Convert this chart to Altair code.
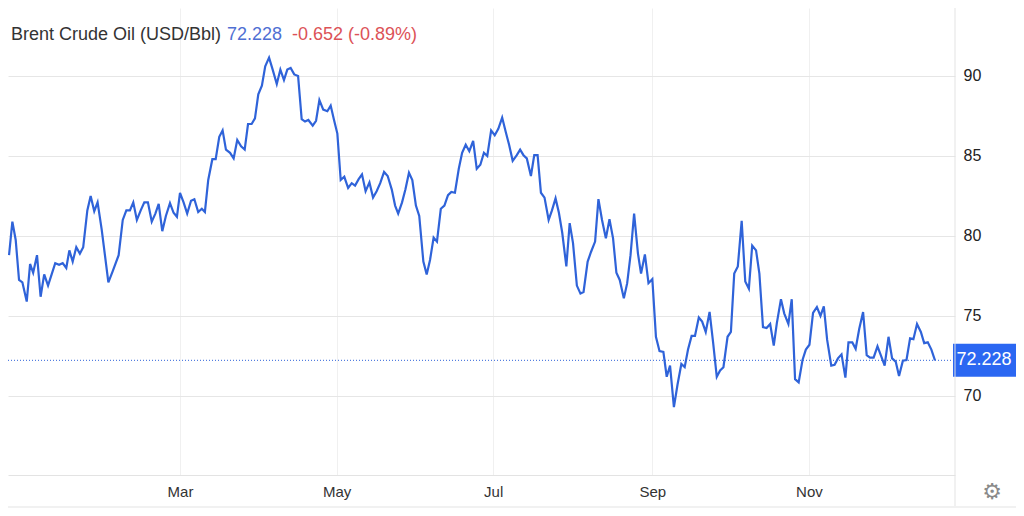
import altair as alt
import pandas as pd

# Day offsets from 2024-01-01 and Brent closing prices
DAYS = [
    -6.6, -5.3, -4.0, -2.7, -1.4, 0.3, 1.6, 2.8, 4.3, 5.7, 7.1, 8.6, 10.0, 11.4, 12.9, 14.3,
    15.7, 16.9, 18.2, 19.6, 21.0, 22.3, 23.9, 25.2, 26.6, 27.9, 29.5, 32.1, 33.8, 36.1, 37.7,
    39.1, 40.5, 41.8, 43.2, 44.7, 46.1, 47.5, 49.0, 50.4, 51.7, 53.1, 54.5, 56.1, 57.5, 58.8,
    60.0, 61.4, 62.8, 64.3, 65.6, 67.1, 68.5, 69.7, 71.0, 72.6, 73.9, 75.3, 76.6, 77.9, 79.5,
    80.9, 82.3, 83.8, 85.2, 86.5, 87.9, 89.2, 90.5, 91.9, 93.2, 94.7, 96.1, 97.7, 99.1, 100.5,
    101.8, 103.1, 104.5, 106.0, 107.4, 108.7, 110.0, 111.7, 113.0, 114.3, 115.8, 117.4, 118.7,
    120.0, 121.3, 122.6, 124.0, 125.5, 126.9, 128.2, 129.6, 130.9, 132.3, 133.8, 135.2, 136.6,
    138.0, 139.5, 140.9, 142.5, 143.8, 145.0, 146.5, 147.8, 149.2, 150.5, 151.9, 153.2, 154.8,
    156.1, 157.4, 158.8, 160.1, 161.6, 163.0, 164.4, 165.7, 167.1, 168.6, 169.9, 171.3, 172.7,
    174.2, 175.6, 177.0, 178.4, 179.7, 181.2, 182.6, 184.0, 185.5, 186.9, 188.2, 189.6, 191.2,
    192.5, 193.8, 195.1, 196.7, 198.0, 199.3, 200.6, 202.0, 203.6, 204.9, 206.3, 207.6, 208.9,
    210.5, 211.8, 213.1, 214.6, 216.0, 217.2, 218.8, 220.1, 221.7, 223.0, 224.4, 225.9, 227.3,
    228.7, 230.0, 231.3, 232.9, 234.2, 235.5, 236.9, 238.4, 239.6, 241.1, 242.5, 244.0, 245.4,
    246.8, 248.3, 249.6, 250.9, 252.4, 253.8, 255.3, 256.6, 257.9, 259.3, 260.6, 262.1, 263.4,
    264.8, 266.3, 267.7, 269.1, 270.4, 271.7, 273.3, 274.6, 275.9, 277.3, 278.8, 280.2, 281.6,
    282.9, 284.4, 285.7, 287.1, 288.5, 289.9, 291.3, 292.5, 294.1, 295.4, 297.0, 298.3, 299.6,
    301.0, 302.5, 303.8, 305.2, 306.6, 308.1, 309.5, 310.8, 312.1, 313.7, 315.0, 316.3, 317.7,
    319.2, 320.4, 321.9, 323.2, 324.6, 326.1, 327.5, 328.8, 330.2, 331.7, 333.1, 334.5, 336.0,
    337.4, 338.8, 340.1, 341.6, 343.0, 344.4, 345.7, 347.1, 348.6, 349.9, 351.3, 352.7, 354.1,
]
PRICES = [
    78.8, 80.9, 79.75, 77.25, 77.1, 75.9, 78.25, 77.7, 78.8, 76.2, 77.6, 76.9, 77.6, 78.3, 78.2, 78.3,
    78.0, 79.1, 78.4, 79.3, 78.9, 79.3, 81.6, 82.5, 81.55, 82.1, 80.4, 77.1, 77.8, 78.8, 81.0,
    81.6, 81.6, 82.1, 81.0, 81.6, 82.1, 82.1, 80.9, 81.4, 82.0, 80.3, 81.25, 82.05, 81.45, 81.2,
    82.7, 82.1, 81.4, 82.2, 82.3, 81.5, 81.7, 81.5, 83.5, 84.8, 84.8, 86.2, 86.6, 85.4, 85.2,
    84.85, 86.0, 85.6, 85.4, 87.0, 87.0, 87.35, 88.85, 89.4, 90.6, 91.15, 90.4, 89.5, 90.4, 89.75,
    90.4, 90.5, 90.1, 90.0, 87.3, 87.15, 87.25, 86.9, 87.2, 88.5, 87.9, 87.8, 88.15,
    87.25, 86.4, 83.5, 83.7, 83.0, 83.3, 83.15, 83.55, 83.85, 82.8, 83.35, 82.4, 82.8,
    83.3, 84.0, 83.75, 82.9, 81.9, 81.4, 82.1, 82.9, 83.95, 83.5, 81.9, 81.25, 78.4,
    77.6, 78.5, 79.9, 79.65, 81.7, 81.9, 82.55, 82.75, 82.7, 84.2, 85.2, 85.7, 85.3,
    85.95, 84.2, 84.45, 85.2, 85.0, 86.6, 86.3, 86.7, 87.4, 86.5, 85.7, 84.7, 85.05,
    85.4, 85.05, 84.85, 83.75, 85.05, 85.05, 82.7, 82.4, 81.0, 81.6, 82.35, 81.45, 80.2,
    78.1, 80.8, 79.55, 76.9, 76.4, 76.5, 78.4, 79.0, 79.65, 82.3, 81.0, 79.85, 81.05,
    79.85, 77.7, 77.25, 76.1, 77.05, 78.8, 81.4, 78.9, 77.65, 78.85, 77.05, 77.3, 73.7,
    72.8, 72.75, 71.2, 71.9, 69.3, 70.7, 72.0, 71.8, 72.9, 73.75, 73.75, 74.9, 74.65,
    74.0, 75.25, 73.3, 71.2, 71.6, 71.8, 73.7, 74.0, 77.65, 78.1, 80.95, 77.15, 76.7,
    79.4, 79.1, 77.65, 74.3, 74.25, 74.5, 73.15, 74.55, 76.05, 75.15, 74.5, 76.05, 71.05,
    70.85, 72.25, 72.9, 73.2, 75.2, 75.55, 75.0, 75.6, 73.5, 71.9, 71.95, 72.35, 72.6,
    71.15, 73.35, 73.35, 72.95, 74.2, 75.25, 72.55, 72.4, 72.4, 73.1, 72.5, 71.9, 73.7,
    72.35, 72.15, 71.25, 72.2, 72.25, 73.6, 73.55, 74.5, 74.0, 73.3, 73.35, 72.9, 72.228,
]

TITLE_NAME = "Brent Crude Oil (USD/Bbl)"
LAST_PRICE = 72.228
LAST_TEXT = "72.228"
CHANGE_TEXT = "-0.652 (-0.89%)"
Y_TICKS = [70, 75, 80, 85, 90]
X_TICK_MONTHS = [3, 5, 7, 9, 11]

FONT = "Liberation Sans"
LINE_BLUE = "#2f63d9"
BOX_BLUE = "#2b67f2"

dates = pd.Timestamp("2024-01-01") + pd.to_timedelta(DAYS, unit="D")
df = pd.DataFrame({"date": dates, "price": PRICES})
last_df = pd.DataFrame({"price": [LAST_PRICE], "label": [LAST_TEXT]})
one = pd.DataFrame({"k": [0]})

x_scale = alt.Scale(domain=[alt.DateTime(year=2023, month=12, date=25),
                            alt.DateTime(year=2024, month=12, date=27, hours=21, minutes=36)])
y_scale = alt.Scale(domain=[65.06, 94.25], nice=False, zero=False)

x_axis = alt.Axis(
    values=[alt.DateTime(year=2024, month=m, date=1) for m in X_TICK_MONTHS],
    format="%b", title=None, grid=True, gridColor="#f0f0f0", domainColor="#e3e3e3",
    ticks=False, labelFont=FONT, labelFontSize=15, labelColor="#333333", labelPadding=9,
)
y_axis = alt.Axis(
    orient="right", values=Y_TICKS, title=None, grid=True, gridColor="#e6e6e6",
    domain=False, ticks=False, labelFont=FONT, labelFontSize=16, labelColor="#222222",
    labelPadding=8,
)

line = alt.Chart(df).mark_line(color=LINE_BLUE, strokeWidth=2.2).encode(
    x=alt.X("date:T", scale=x_scale, axis=x_axis),
    y=alt.Y("price:Q", scale=y_scale, axis=y_axis),
)

dotted = alt.Chart(last_df).mark_rule(color=LINE_BLUE, strokeWidth=1, strokeDash=[1, 2]).encode(
    y=alt.Y("price:Q", scale=y_scale), x=alt.value(0), x2=alt.value(947)
)

box = alt.Chart(last_df).mark_rect(color=BOX_BLUE, yOffset=-16.5, y2Offset=16.5).encode(
    y=alt.Y("price:Q", scale=y_scale), y2="price:Q", x=alt.value(945), x2=alt.value(1008)
)
box_text = alt.Chart(last_df).mark_text(
    color="white", font=FONT, fontSize=18, align="center", baseline="middle"
).encode(y=alt.Y("price:Q", scale=y_scale), x=alt.value(976), text="label:N")

sep = alt.Chart(one).mark_rule(color="#e3e3e3", strokeWidth=1).encode(
    x=alt.value(947), y=alt.value(0), y2=alt.value(499)
)
band = alt.Chart(one).mark_rect(color="#f1f1f1").encode(
    x=alt.value(-8), x2=alt.value(1016), y=alt.value(498), y2=alt.value(500)
)

title_df = pd.DataFrame({"name": [TITLE_NAME], "last": [LAST_TEXT], "chg": [CHANGE_TEXT]})
t1 = alt.Chart(title_df).mark_text(
    color="#333333", font=FONT, fontSize=18, align="left", baseline="middle"
).encode(x=alt.value(3), y=alt.value(27), text="name:N")
t2 = alt.Chart(title_df).mark_text(
    color="#4f6fd3", font=FONT, fontSize=18, align="left", baseline="middle"
).encode(x=alt.value(219), y=alt.value(27), text="last:N")
t3 = alt.Chart(title_df).mark_text(
    color="#dc5257", font=FONT, fontSize=18, align="left", baseline="middle"
).encode(x=alt.value(284), y=alt.value(27), text="chg:N")

gear = alt.Chart(one).mark_text(
    text="\u2699", color="#8a8a8a", font="DejaVu Sans", fontSize=22, align="center", baseline="middle"
).encode(x=alt.value(984), y=alt.value(484))

chart = alt.layer(dotted, line, box, box_text, sep, band, t1, t2, t3, gear).properties(
    width=947, height=467,
    autosize=alt.AutoSizeParams(type="none"),
    padding={"left": 0, "top": 0, "right": 61, "bottom": 33},
).configure_view(stroke=None)

chart.save("out.html", embed_options={"renderer": "svg", "actions": False})
